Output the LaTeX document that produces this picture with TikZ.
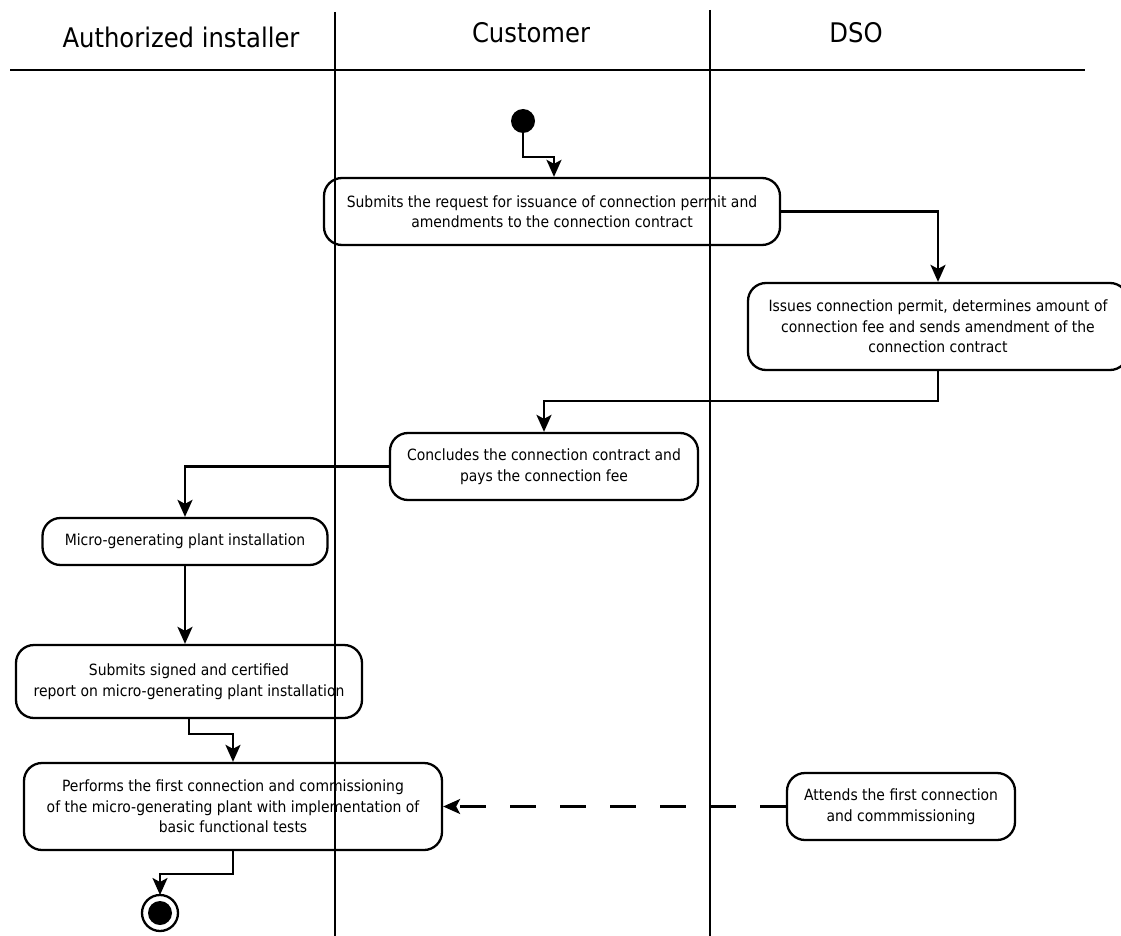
\documentclass[tikz,border=0pt]{standalone}
\usepackage{fontspec}
\setmainfont{DejaVu Sans Condensed}
\usetikzlibrary{arrows.meta}

\tikzset{
	act/.style={draw, line width=2.3pt, rounded corners=18pt, align=center,
		font=\fontsize{15.5}{20.5}\selectfont, inner sep=0pt},
	arr/.style={line width=2.3pt, -{Stealth[length=17pt,width=15pt,inset=4pt]}},
	lane/.style={line width=2pt},
	head/.style={font=\fontsize{27}{30}\selectfont}
}

\begin{document}
\begin{tikzpicture}[x=1pt,y=-1pt]
	\useasboundingbox (0,0) rectangle (1121,936);
	% swimlanes
	\draw[lane] (10,70) -- (1085,70);
	\draw[lane] (335,12) -- (335,936);
	\draw[lane] (710,10) -- (710,936);
	\node[head] (installer) at (181,37) {Authorized installer};
	\node[head] (customer) at (531,33) {Customer};
	\node[head] (dso) at (856,33) {DSO};
	% activities
	\fill (523,121) circle (12);
	\coordinate (start) at (523,133);
	\node[act, minimum width=456pt, minimum height=67pt] (request) at (552,211.5)
		{Submits the request for issuance of connection permit and\\amendments to the connection contract};
	\node[act, minimum width=380pt, minimum height=87pt] (permit) at (938,326.5)
		{Issues connection permit, determines amount of\\connection fee and sends amendment of the\\connection contract};
	\node[act, minimum width=308pt, minimum height=67pt] (contract) at (544,466.5)
		{Concludes the connection contract and\\pays the connection fee};
	\node[act, minimum width=285pt, minimum height=47pt] (install) at (185,541.5)
		{Micro-generating plant installation};
	\node[act, minimum width=346pt, minimum height=73pt] (report) at (189,681.5)
		{Submits signed and certified\\report on micro-generating plant installation};
	\node[act, minimum width=418pt, minimum height=87pt] (commission) at (233,806.5)
		{Performs the first connection and commissioning\\of the micro-generating plant with implementation of\\basic functional tests};
	\node[act, minimum width=228pt, minimum height=67pt] (attend) at (901,806.5)
		{Attends the first connection\\and commmissioning};
	\draw[line width=2.3pt] (160,913) circle (18);
	\fill (160,913) circle (12);
	\coordinate (finish) at (160,895);
	% flows
	\draw[arr] (start) -- ++(0,24) -| ([xshift=2pt]request.north);
	\draw[arr] (request.east) -| (permit.north);
	\draw[arr] (permit.south) -- ++(0,30) -| (contract.north);
	\draw[arr] (contract.west) -| (install.north);
	\draw[arr] (install.south) -- (install.south |- report.north);
	\draw[arr] (report.south) -- ++(0,15) -| (commission.north);
	\draw[arr] (commission.south) -- ++(0,23) -| (finish);
	\draw[arr, dash pattern=on 26pt off 24pt] (attend.west) -- (commission.east);
\end{tikzpicture}
\end{document}
